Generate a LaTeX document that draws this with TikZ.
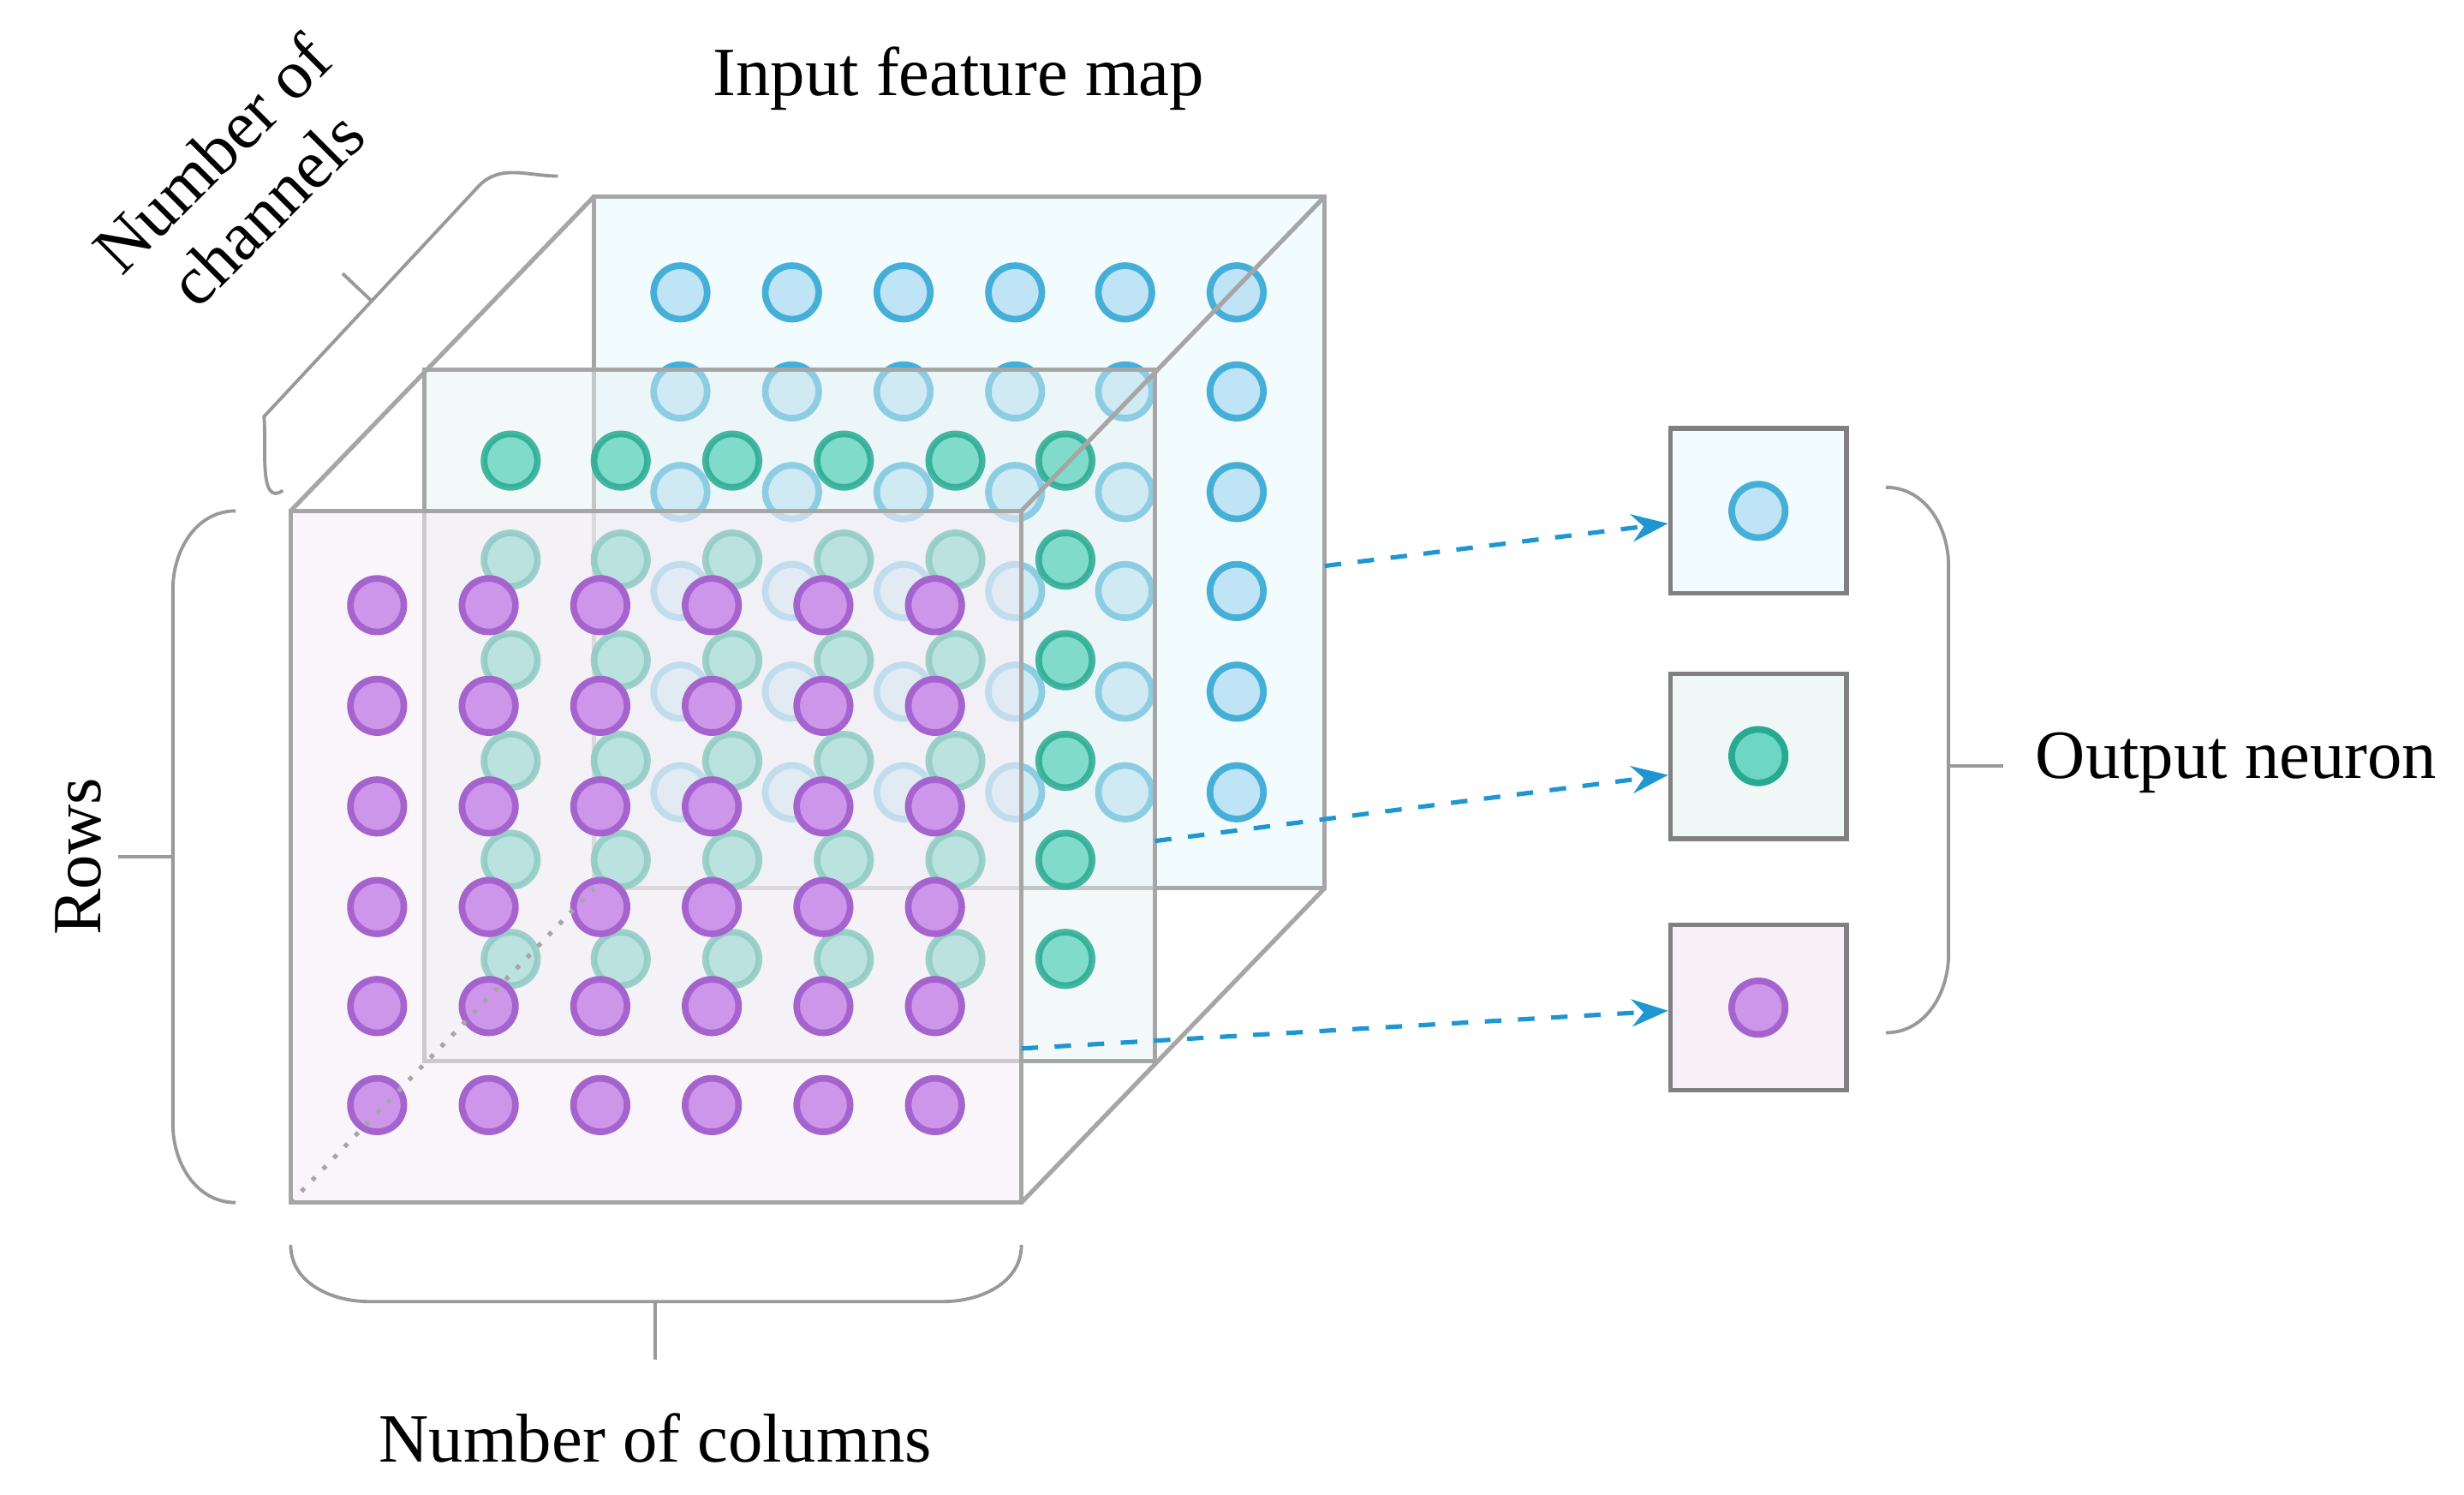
\documentclass[tikz,border=0pt]{standalone}
\usepackage{fontspec}
\setmainfont{Liberation Serif}
\usetikzlibrary{positioning,calc,arrows.meta}
\definecolor{bluedot}{RGB}{190,228,245}
\definecolor{blueline}{RGB}{70,175,215}
\definecolor{tealdot}{RGB}{110,215,195}
\definecolor{tealline}{RGB}{40,170,145}
\definecolor{purpdot}{RGB}{205,150,235}
\definecolor{purpline}{RGB}{165,100,205}
\definecolor{arrowblue}{RGB}{30,150,210}
\begin{document}
\begin{tikzpicture}[x=0.01cm,y=-0.01cm,>=Stealth,
        plane/.style={draw=gray!70, line width=0.8pt},
        dot/.style={circle, minimum size=0.34cm, inner sep=0pt, line width=1.2pt},
        out node/.style={draw=gray, line width=0.8pt, minimum width=1.12cm, minimum height=1.05cm},
        brace/.style={draw=gray!80, line width=0.6pt},
        label/.style={font=\fontsize{12.5}{14}\selectfont},
        link/.style={->, dashed, arrowblue, line width=0.8pt}]

\useasboundingbox (0,0) rectangle (1568,951);

% back plane
\fill[cyan!5] (378,125) rectangle (843,565);
\foreach \x in {433,504,575,646,716,787}
  \foreach \y in {186,249,313,376,440,504}
    \node[dot, fill=bluedot, draw=blueline] at (\x,\y) {};
\draw[plane] (378,125) rectangle (843,565);

% middle plane
\fill[teal!10, fill opacity=0.45] (270,235) rectangle (735,675);
\foreach \x in {325,395,466,537,608,678}
  \foreach \y in {293,356,420,484,547,610}
    \node[dot, fill=tealdot, draw=tealline, opacity=0.85] at (\x,\y) {};
\draw[plane] (270,235) rectangle (735,675);

% front plane
\fill[violet!8, fill opacity=0.5] (185,325) rectangle (650,765);
\foreach \x in {240,311,382,453,524,595}
  \foreach \y in {385,449,513,577,640,703}
    \node[dot, fill=purpdot, draw=purpline] at (\x,\y) {};
\draw[plane] (185,325) rectangle (650,765);

% cube edges
\draw[plane] (185,325) -- (378,125);
\draw[plane] (650,325) -- (843,125);
\draw[plane] (650,765) -- (843,565);
\draw[plane, dotted] (185,765) -- (378,565);

% outputs
\node[out node, fill=cyan!5] (o1) at (1119,325) {};
\node[out node, fill=teal!6] (o2) at (1119,481) {};
\node[out node, fill=violet!6] (o3) at (1119,641) {};
\node[dot, fill=bluedot, draw=blueline] at (o1) {};
\node[dot, fill=tealdot, draw=tealline] at (o2) {};
\node[dot, fill=purpdot, draw=purpline] at (o3) {};

\coordinate (s1) at (843,360);
\coordinate (s2) at (735,535);
\coordinate (s3) at (650,667);
\draw[link] (s1) -- ($(o1.west)+(0,8)$);
\draw[link] (s2) -- ($(o2.west)+(0,12)$);
\draw[link] (s3) -- ($(o3.west)+(0,2)$);

% braces
\draw[brace] (150,325) to[out=180,in=90] (110,375) -- (110,715) to[out=-90,in=180] (150,765);
\draw[brace] (110,545) -- (75,545);
\draw[brace] (185,792) to[out=-90,in=180] (235,828) -- (600,828) to[out=0,in=-90] (650,792);
\draw[brace] (417,828) -- (417,865);
\draw[brace] (1200,310) to[out=0,in=90] (1240,360) -- (1240,607) to[out=-90,in=0] (1200,657);
\draw[brace] (1240,487) -- (1275,487);
\draw[brace] (180,312) to[out=215,in=-85] (168,265) -- (305,118) to[out=45,in=180] (355,112);
\draw[brace] (236,191) -- (218,174);

% labels
\node[label] (title) at (610,50) {Input feature map};
\node[label, rotate=90] (rows) at (50,545) {Rows};
\node[label] (cols) at (417,915) {Number of columns};
\node[label, anchor=west] (outl) at (1283,485) {Output neuron};
\node[label, rotate=45, align=center, inner sep=0pt] (chan) at (152,115) {Number of\\channels};
\end{tikzpicture}
\end{document}
